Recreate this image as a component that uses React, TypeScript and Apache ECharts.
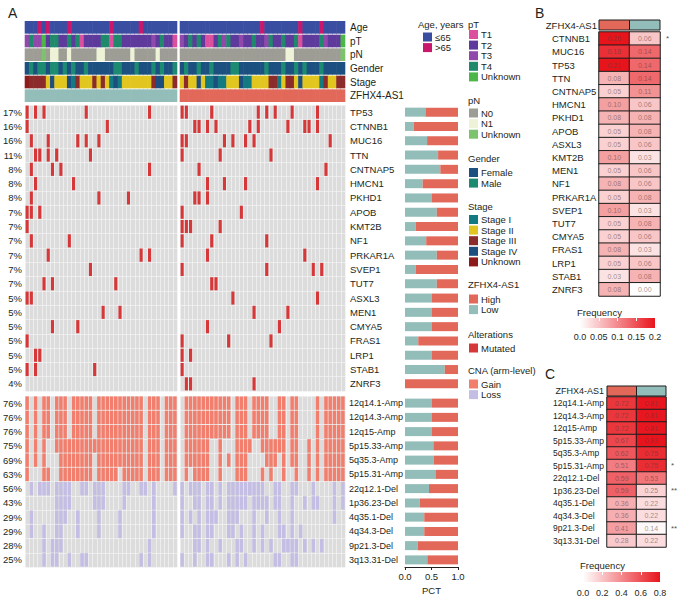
import { useEffect, useRef } from "react";
import * as echarts from "echarts";

const FONT = "'Liberation Sans', Arial, Helvetica, sans-serif";
const TXT = "#231f20";

const N_LOW = 36;
const N_HIGH = 39;

// ---------- Annotation tracks ----------
const annoTracks = ["Age", "pT", "pN", "Gender", "Stage", "ZFHX4-AS1"];
const ageNames = ["≤65", ">65"];
const ageColors = ["#3a4ea1", "#c9176b"];
const ageLow = [0,0,0,1,0, 1,0,0,0,0, 1,0,0,0,0, 0,0,0,0,0, 1,0,0,0,0, 0,0,1,0,0, 0,0,0,0,0, 0];
const ageHigh = [0,0,0,0,0, 0,0,0,0,0, 0,0,0,0,0, 0,0,0,0,1, 0,0,0,0,0, 0,0,0,1,0, 0,0,0,1,0, 0,0,0,0];
const pTNames = ["T1", "T2", "T3", "T4", "Unknown"];
const pTColors = ["#dc4f9f", "#5e3a9c", "#9049aa", "#1f8a6b", "#4cb648"];
const pTLow = [2,3,2,2,4, 1,3,3,1,1, 3,1,3,0,1, 1,1,1,3,3, 0,3,3,1,1, 1,1,1,1,1, 2,1,3,1,1, 0];
const pTHigh = [2,1,3,1,3, 1,0,0,1,3, 2,3,1,1,2, 1,1,3,1,1, 2,3,1,1,3, 1,1,3,0,1, 1,1,1,3,2, 1,1,1,4];
const pNNames = ["N0", "N1", "Unknown"];
const pNColors = ["#9d9d96", "#eef2d6", "#7cc36b"];
const pNLow = [0,0,0,0,2, 0,1,1,0,0, 1,0,0,0,0, 0,0,1,1,0, 0,0,0,0,0, 1,0,0,0,0, 0,1,0,0,0, 0];
const pNHigh = [0,0,0,0,0, 0,0,0,0,0, 0,0,0,0,0, 0,0,0,0,0, 0,0,0,0,0, 1,1,0,0,0, 0,0,0,0,0, 0,0,0,2];
const genderNames = ["Female", "Male"];
const genderColors = ["#1b5080", "#1d8a72"];
const genderLow = [0,1,0,1,1, 0,1,1,0,1, 0,1,0,0,1, 0,0,0,0,0, 0,1,1,0,0, 0,1,0,0,0, 1,0,1,0,0, 1];
const genderHigh = [0,1,0,0,1, 0,0,1,0,0, 0,0,1,1,0, 0,0,0,0,0, 1,0,0,0,1, 0,0,1,0,1, 0,0,0,1,0, 0,0,0,0];
const stageNames = ["Stage I", "Stage II", "Stage III", "Stage IV", "Unknown"];
const stageColors = ["#127a80", "#e2c620", "#8b2b2b", "#1d4e80", "#8e1b1b"];
const stageLow = [4,2,2,2,2, 1,3,1,1,1, 3,0,2,1,1, 1,2,1,2,1, 0,3,0,1,1, 1,1,1,1,1, 2,3,3,1,1, 2];
const stageHigh = [1,2,1,1,3, 1,0,0,3,0, 0,1,1,1,3, 0,0,1,1,1, 1,2,2,0,1, 2,2,1,3,1, 1,1,1,0,2, 1,1,2,2];
const zfNames = ["High", "Low"];
const zfColors = ["#e2685a", "#93bdb8"];

// ---------- Mutations (column indices within each group) ----------
const genes = ["TP53","CTNNB1","MUC16","TTN","CNTNAP5","HMCN1","PKHD1","APOB","KMT2B","NF1","PRKAR1A","SVEP1","TUT7","ASXL3","MEN1","CMYA5","FRAS1","LRP1","STAB1","ZNRF3"];
const mutPct = ["17%","16%","16%","11%","8%","8%","8%","7%","7%","7%","7%","7%","7%","5%","5%","5%","5%","5%","5%","4%"];
const mutLow = [
  [0,2,4,14,29], [0,19], [1,5,12,14,17], [2,3,5,7,15], [1,6,8,29], [2,11], [1,17,24], [0,1,3], [0], [1,10],
  [5,27,29], [15], [4,6,21], [0,1], [18,22], [6,12], [0], [2,3], [0,2,16], [],
];
const mutHigh = [
  [0,1,7,18,20,22,26,32], [3,4,6,8,16,18,25,29,30,32], [0,1,10,12,15,17,35], [0,9,21], [4,34], [6,10,15,32],
  [3,4,6], [0,14], [0,1,2,9], [0,7,20], [6,29], [0,20,31,33], [7,8], [12,32], [17,25], [6,23], [0,11,21],
  [0,2], [0], [1,2,17],
];

// ---------- CNA (column indices within each group) ----------
const cnaNames = ["12q14.1-Amp","12q14.3-Amp","12q15-Amp","5p15.33-Amp","5q35.3-Amp","5p15.31-Amp","22q12.1-Del","1p36.23-Del","4q35.1-Del","4q34.3-Del","9p21.3-Del","3q13.31-Del"];
const cnaPct = ["76%","76%","76%","75%","69%","63%","56%","43%","29%","29%","28%","25%"];
const cnaLow = [
  [0,2,4,5,7,8,9,11,12,13,14,15,17,18,19,20,21,22,23,24,25,26,27,29,30,31,33,34,35],
  [0,2,4,5,7,8,9,11,12,13,14,15,17,18,19,20,21,22,23,24,25,26,27,29,30,31,33,34,35],
  [0,2,4,5,7,8,9,11,12,13,14,15,17,18,19,20,21,22,23,24,25,26,27,29,30,31,33,34,35],
  [0,2,4,7,8,9,10,11,12,13,14,15,16,17,18,19,20,21,22,23,24,25,26,27,29,30,31,33,34,35],
  [0,2,4,8,9,10,11,12,13,14,15,17,18,19,20,21,22,23,24,25,26,27,29,30,31,33,34,35],
  [0,4,5,8,9,10,11,12,13,14,15,17,18,19,20,21,23,24,25,26,27,29,30,31,33,34,35],
  [1,3,4,5,7,8,9,10,13,14,16,17,18,23,24,27,28,30,35],
  [7,8,9,10,16,17,18,23,30],
  [1,7,8,9,12,17,22,30],
  [1,4,7,8,12,17,22,30],
  [4,6,7,8,29],
  [4,6,7,10,13,14,27,29],
];
const cnaHigh = [
  [1,2,3,4,5,6,7,8,9,10,11,13,14,15,17,18,19,20,23,24,26,27,32,34,35,36,37,38],
  [1,2,3,4,5,6,7,8,9,10,11,13,14,15,17,18,19,20,23,24,26,27,32,34,35,36,37,38],
  [1,2,3,4,5,6,7,8,9,10,11,13,14,15,17,18,19,20,23,24,26,27,32,34,35,36,37,38],
  [1,2,3,4,5,6,9,13,14,15,16,19,20,21,22,23,24,26,27,30,32,34,35,36,37,38],
  [1,2,3,4,5,6,9,11,13,14,15,20,21,22,24,26,27,30,32,34,35,36,37,38],
  [1,3,4,5,6,9,13,14,15,19,21,24,27,30,32,34,35,36,37,38],
  [0,2,3,4,6,7,9,11,12,13,14,15,16,17,18,19,22,23,26,27,31,36,38],
  [0,3,4,6,7,9,11,12,13,14,15,17,18,19,20,22,23,26,29,31,32,36,38],
  [0,2,4,6,7,8,11,12,13,17,20,23,26,36],
  [0,3,4,6,7,11,12,14,17,19,23,24,26,28],
  [3,4,6,9,13,14,17,19,21,24,25,26,27,29,31,33],
  [0,3,6,7,11,13,15,22,23,26,27],
];
const barTicks = ["0.0", "0.5", "1.0"];

// ---------- Panel B ----------
const bGenes = ["CTNNB1","MUC16","TP53","TTN","CNTNAP5","HMCN1","PKHD1","APOB","ASXL3","KMT2B","MEN1","NF1","PRKAR1A","SVEP1","TUT7","CMYA5","FRAS1","LRP1","STAB1","ZNRF3"];
const bHigh = [0.26,0.18,0.21,0.08,0.05,0.10,0.08,0.05,0.05,0.10,0.05,0.08,0.05,0.10,0.05,0.05,0.08,0.05,0.03,0.08];
const bLow = [0.06,0.14,0.14,0.14,0.11,0.06,0.08,0.08,0.06,0.03,0.06,0.06,0.08,0.03,0.08,0.06,0.03,0.06,0.08,0.00];
const bSig = ["*","","","","","","","","","","","","","","","","","","",""];
const bTicks = ["0.0", "0.05", "0.1", "0.15", "0.2"];

// ---------- Panel C ----------
const cNames = ["12q14.1-Amp","12q14.3-Amp","12q15-Amp","5p15.33-Amp","5q35.3-Amp","5p15.31-Amp","22q12.1-Del","1p36.23-Del","4q35.1-Del","4q34.3-Del","9p21.3-Del","3q13.31-Del"];
const cHigh = [0.72,0.72,0.72,0.67,0.62,0.51,0.59,0.59,0.36,0.36,0.41,0.28];
const cLow = [0.81,0.81,0.81,0.83,0.75,0.75,0.53,0.25,0.22,0.22,0.14,0.22];
const cSig = ["","","","","","*","","**","","","**",""];
const cTicks = ["0.0", "0.2", "0.4", "0.6", "0.8"];

const MUT_COLOR = "#d6383a";
const GAIN_COLOR = "#f27f6e";
const LOSS_COLOR = "#c4bee4";
const CELL_BG = "#dcdcdc";
const RED = "#e8141c";

function buildOption() {
  const lowCols = Array.from({ length: N_LOW }, (_, i) => String(i));
  const highCols = Array.from({ length: N_HIGH }, (_, i) => String(i));

  const trackColors = [ageColors, pTColors, pNColors, genderColors, stageColors, zfColors];
  const trackLow = [ageLow, pTLow, pNLow, genderLow, stageLow, lowCols.map(() => 1)];
  const trackHigh = [ageHigh, pTHigh, pNHigh, genderHigh, stageHigh, highCols.map(() => 0)];

  const annoData = (tracks: number[][]) => {
    const data: number[][] = [];
    const fills: string[] = [];
    tracks.forEach((codes, t) =>
      codes.forEach((k, c) => {
        data.push([c, t]);
        fills.push(trackColors[t][k]);
      })
    );
    return { data, fills };
  };
  const aLow = annoData(trackLow);
  const aHigh = annoData(trackHigh);

  const listData = (rows: number[][]) => {
    const data: number[][] = [];
    rows.forEach((cols, r) => cols.forEach((c) => data.push([c, r])));
    return data;
  };
  const mLowData = listData(mutLow);
  const mHighData = listData(mutHigh);
  const cLowData = listData(cnaLow);
  const cHighData = listData(cnaHigh);

  const cells = (
    xi: number,
    yi: number,
    data: number[][],
    fill: (i: number) => string,
    padX: number,
    padY: number,
    stroke?: string
  ) => ({
    type: "custom",
    xAxisIndex: xi,
    yAxisIndex: yi,
    data,
    silent: true,
    renderItem: (params: any, api: any) => {
      const p = api.coord([api.value(0), api.value(1)]);
      const s = api.size([1, 1]);
      return {
        type: "rect",
        shape: {
          x: p[0] - s[0] / 2 + padX,
          y: p[1] - s[1] / 2 + padY,
          width: s[0] - 2 * padX,
          height: s[1] - 2 * padY,
        },
        style: stroke
          ? { fill: fill(params.dataIndex), stroke, lineWidth: 1 }
          : { fill: fill(params.dataIndex) },
      };
    },
  });

  const mutLowFrac = genes.map((_, g) => mutLow[g].length / (mutLow[g].length + mutHigh[g].length));
  const mutHighFrac = mutLowFrac.map((v) => 1 - v);
  const cnaLowFrac = cnaNames.map((_, r) => cnaLow[r].length / (cnaLow[r].length + cnaHigh[r].length));
  const cnaHighFrac = cnaLowFrac.map((v) => 1 - v);

  const grid = (left: number, top: number, width: number, height: number, extra: any = {}) => ({
    left, top, width, height, outerBoundsMode: "none", containLabel: false, ...extra,
  });
  const bgGrid = { show: true, backgroundColor: CELL_BG, borderWidth: 0, borderColor: "transparent" };

  const hidden = {
    axisLine: { show: false },
    axisTick: { show: false },
    axisLabel: { show: false },
    splitLine: { show: false },
  };
  const split = { show: true, interval: 0, lineStyle: { color: "#f1f1f1", width: 0.8 } };
  const cat = (gridIndex: number, data: string[], extra: any = {}) => ({
    type: "category", gridIndex, data, boundaryGap: true, ...hidden, ...extra,
  });
  const lab = (fontSize: number, extra: any = {}) => ({
    show: true, interval: 0, fontSize, color: TXT, fontFamily: FONT, ...extra,
  });

  const xAxis = [
    cat(0, lowCols),
    cat(1, highCols),
    cat(2, lowCols, { splitLine: split }),
    cat(3, highCols, { splitLine: split }),
    cat(4, lowCols, { splitLine: split }),
    cat(5, highCols, { splitLine: split }),
    { type: "value", gridIndex: 6, min: 0, max: 1, ...hidden },
    {
      type: "value", gridIndex: 7, min: 0, max: 1, interval: 0.5,
      axisLine: { show: true, lineStyle: { color: "#222", width: 1 } },
      axisTick: { show: true, length: 3, lineStyle: { color: "#222" } },
      axisLabel: lab(9.5, { margin: 4, formatter: (v: number) => barTicks[Math.round(v / 0.5)] }),
      splitLine: { show: false },
      name: "PCT", nameLocation: "middle", nameGap: 18,
      nameTextStyle: { fontSize: 9.5, color: TXT, fontFamily: FONT },
    },
    cat(8, zfNames),
    cat(9, zfNames),
    {
      type: "value", gridIndex: 10, min: 0, max: 0.2, interval: 0.05, position: "bottom",
      ...hidden,
      axisLabel: lab(9, { margin: 4, formatter: (v: number) => bTicks[Math.round(v / 0.05)] }),
    },
    {
      type: "value", gridIndex: 10, min: 0, max: 0.2, interval: 0.05, position: "top", z: 10,
      ...hidden,
      axisTick: { show: true, inside: true, length: 3, lineStyle: { color: "#ffffff", width: 1 } },
    },
    cat(11, zfNames),
    cat(12, zfNames),
    {
      type: "value", gridIndex: 13, min: 0, max: 0.8, interval: 0.2, position: "bottom",
      ...hidden,
      axisLabel: lab(9, { margin: 6, formatter: (v: number) => cTicks[Math.round(v / 0.2)] }),
    },
    {
      type: "value", gridIndex: 13, min: 0, max: 0.8, interval: 0.2, position: "top", z: 10,
      ...hidden,
      axisTick: { show: true, inside: true, length: 3, lineStyle: { color: "#ffffff", width: 1 } },
    },
  ];

  const yAxis = [
    cat(0, annoTracks, { inverse: true }),
    cat(1, annoTracks, { inverse: true, position: "right", axisLabel: lab(10, { margin: 5 }) }),
    cat(2, genes, {
      inverse: true, position: "left", splitLine: split,
      axisLabel: lab(9.5, { margin: 3, formatter: (_: string, i: number) => mutPct[i] }),
    }),
    cat(3, genes, { inverse: true, position: "right", splitLine: split, axisLabel: lab(9.5, { margin: 5 }) }),
    cat(4, cnaNames, {
      inverse: true, position: "left", splitLine: split,
      axisLabel: lab(9.5, { margin: 3, formatter: (_: string, i: number) => cnaPct[i] }),
    }),
    cat(5, cnaNames, { inverse: true, position: "right", splitLine: split, axisLabel: lab(9, { margin: 4 }) }),
    cat(6, genes, { inverse: true }),
    cat(7, cnaNames, { inverse: true }),
    cat(8, ["ZFHX4-AS1"], { position: "left", axisLabel: lab(9.5, { margin: 2 }) }),
    cat(9, bGenes, { inverse: true, position: "left", axisLabel: lab(9.5, { margin: 47, align: "left" }) }),
    cat(9, bGenes, {
      inverse: true, position: "right",
      axisLabel: lab(8, { margin: 6, color: "#555", formatter: (_: string, i: number) => bSig[i] }),
    }),
    cat(10, ["f"]),
    cat(11, ["ZFHX4-AS1"], { position: "left", axisLabel: lab(9, { margin: 3 }) }),
    cat(12, cNames, { inverse: true, position: "left", axisLabel: lab(8.5, { margin: 54, align: "left" }) }),
    cat(12, cNames, {
      inverse: true, position: "right",
      axisLabel: lab(8, { margin: 5, color: "#555", formatter: (_: string, i: number) => cSig[i] }),
    }),
    cat(13, ["f"]),
  ];

  const grids = [
    grid(25, 20.5, 152, 82),
    grid(180, 20.5, 165, 82),
    grid(25, 105, 152, 286, bgGrid),
    grid(180, 105, 165, 286, bgGrid),
    grid(25, 396, 152, 171, bgGrid),
    grid(180, 396, 165, 171, bgGrid),
    grid(405, 105, 53, 286),
    grid(405, 396, 53, 171),
    grid(599, 20, 61, 10),
    grid(599, 32, 61, 264),
    grid(580, 318, 75, 10),
    grid(607, 386, 59, 10),
    grid(607, 397, 59, 150),
    grid(583, 572, 77, 10),
  ];

  const gradientSeries = (xi: number, yi: number, max: number) => ({
    type: "custom",
    xAxisIndex: xi,
    yAxisIndex: yi,
    data: [[0, 0, max]],
    silent: true,
    renderItem: (_: any, api: any) => {
      const a = api.coord([api.value(0), api.value(1)]);
      const b = api.coord([api.value(2), api.value(1)]);
      const h = api.size([0, 1])[1];
      return {
        type: "rect",
        shape: { x: a[0], y: a[1] - h / 2, width: b[0] - a[0], height: h },
        style: {
          fill: new echarts.graphic.LinearGradient(0, 0, 1, 0, [
            { offset: 0, color: "#ffffff" },
            { offset: 1, color: RED },
          ]),
        },
      };
    },
  });

  const heatLabel = {
    show: true,
    fontSize: 7,
    fontFamily: FONT,
    color: "rgba(80,60,60,0.55)",
    formatter: (p: any) => Number(p.value[2]).toFixed(2),
  };

  const series: any[] = [
    cells(0, 0, aLow.data, (i) => aLow.fills[i], -0.3, 0.5),
    cells(1, 1, aHigh.data, (i) => aHigh.fills[i], -0.3, 0.5),
    cells(2, 2, mLowData, () => MUT_COLOR, 0.55, 0.6),
    cells(3, 3, mHighData, () => MUT_COLOR, 0.55, 0.6),
    cells(4, 4, cLowData, (i) => (cLowData[i][1] < 6 ? GAIN_COLOR : LOSS_COLOR), 0.35, 0.4),
    cells(5, 5, cHighData, (i) => (cHighData[i][1] < 6 ? GAIN_COLOR : LOSS_COLOR), 0.35, 0.4),
    { type: "bar", xAxisIndex: 6, yAxisIndex: 6, stack: "m", data: mutLowFrac, barWidth: 9, itemStyle: { color: zfColors[1] }, silent: true },
    { type: "bar", xAxisIndex: 6, yAxisIndex: 6, stack: "m", data: mutHighFrac, barWidth: 9, itemStyle: { color: zfColors[0] }, silent: true },
    { type: "bar", xAxisIndex: 7, yAxisIndex: 7, stack: "c", data: cnaLowFrac, barWidth: 9, itemStyle: { color: zfColors[1] }, silent: true },
    { type: "bar", xAxisIndex: 7, yAxisIndex: 7, stack: "c", data: cnaHighFrac, barWidth: 9, itemStyle: { color: zfColors[0] }, silent: true },
    cells(8, 8, [[0, 0], [1, 0]], (i) => zfColors[i], 0, 0, "#1e1e1e"),
    {
      type: "heatmap", xAxisIndex: 9, yAxisIndex: 9, silent: true,
      data: bGenes.flatMap((_, i) => [[0, i, bHigh[i]], [1, i, bLow[i]]]),
      itemStyle: { borderColor: "#1e1e1e", borderWidth: 1 },
      label: heatLabel,
    },
    gradientSeries(10, 11, 0.2),
    cells(12, 12, [[0, 0], [1, 0]], (i) => zfColors[i], 0, 0, "#1e1e1e"),
    {
      type: "heatmap", xAxisIndex: 13, yAxisIndex: 13, silent: true,
      data: cNames.flatMap((_, i) => [[0, i, cHigh[i]], [1, i, cLow[i]]]),
      itemStyle: { borderColor: "#1e1e1e", borderWidth: 1 },
      label: heatLabel,
    },
    gradientSeries(14, 15, 0.8),
  ];

  // ---------- legends & labels (graphic) ----------
  const elements: any[] = [];
  const text = (t: string, x: number, y: number, size: number, extra: any = {}) =>
    elements.push({
      type: "text",
      silent: true,
      style: { text: t, x, y, fill: TXT, fontSize: size, fontFamily: FONT, align: "left", verticalAlign: "middle", ...extra },
    });
  text("A", 8, 13, 14);
  text("B", 535, 13, 14);
  text("C", 545, 374, 14);

  const legendBlocks = [
    { title: "Age, years", tx: 418, ty: 24, sx: 423, sy: 37, names: ageNames, colors: ageColors },
    { title: "pT", tx: 468, ty: 24, sx: 469, sy: 34.5, names: pTNames, colors: pTColors },
    { title: "pN", tx: 468, ty: 100, sx: 469, sy: 113, names: pNNames, colors: pNColors },
    { title: "Gender", tx: 468, ty: 158, sx: 469, sy: 172.5, names: genderNames, colors: genderColors },
    { title: "Stage", tx: 468, ty: 206, sx: 469, sy: 219.5, names: stageNames, colors: stageColors },
    { title: "ZFHX4-AS1", tx: 468, ty: 284, sx: 469, sy: 299, names: zfNames, colors: zfColors },
    { title: "Alterations", tx: 468, ty: 334, sx: 469, sy: 348, names: ["Mutated"], colors: [MUT_COLOR] },
    { title: "CNA (arm-level)", tx: 468, ty: 370, sx: 469, sy: 384, names: ["Gain", "Loss"], colors: [GAIN_COLOR, LOSS_COLOR] },
  ];
  legendBlocks.forEach((b) => {
    text(b.title, b.tx, b.ty, 9.5);
    b.names.forEach((n, i) => {
      const cy = b.sy + i * 10.6;
      elements.push({
        type: "rect",
        silent: true,
        shape: { x: b.sx, y: cy - 4.5, width: 9, height: 9 },
        style: { fill: b.colors[i] },
      });
      text(n, b.sx + 12, cy, 9.5);
    });
  });
  text("Frequency", 577, 312, 9.5);
  text("Frequency", 580, 565, 9.5);

  return {
    animation: false,
    backgroundColor: "#ffffff",
    textStyle: { fontFamily: FONT },
    grid: grids,
    xAxis,
    yAxis,
    visualMap: [
      { type: "continuous", show: false, seriesIndex: 11, dimension: 2, min: 0, max: 0.2, inRange: { color: ["#ffffff", "#f4a0a0", RED] } },
      { type: "continuous", show: false, seriesIndex: 14, dimension: 2, min: 0.12, max: 0.82, inRange: { color: ["#ffffff", RED] } },
    ],
    series,
    graphic: { elements },
  };
}

export default function App() {
  const ref = useRef<HTMLDivElement>(null);
  useEffect(() => {
    const chart = echarts.init(ref.current!, null, { renderer: "svg" });
    chart.setOption(buildOption() as any);
    return () => chart.dispose();
  }, []);
  return (
    <div
      ref={ref}
      style={{ position: "fixed", left: 0, top: 0, width: 685, height: 598, background: "#fff" }}
    />
  );
}
